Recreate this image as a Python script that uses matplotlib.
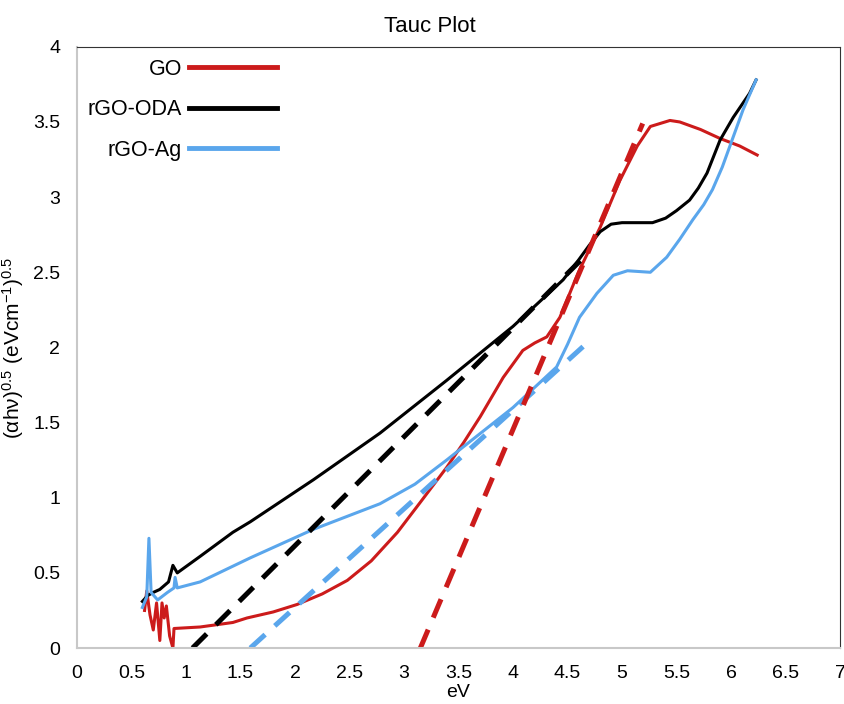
import matplotlib.pyplot as plt

plt.rcParams['font.family'] = ['Liberation Sans', 'DejaVu Sans']

# GO (red)
go_x = [0.62, 0.64, 0.67, 0.70, 0.73, 0.76, 0.78, 0.80, 0.82, 0.85, 0.88, 0.89,
        1.13, 1.43, 1.56, 1.80, 2.02, 2.25, 2.48, 2.70, 2.94, 3.15, 3.39, 3.55,
        3.70, 3.91, 4.09, 4.20, 4.31, 4.43, 4.60, 4.80, 4.98, 5.14, 5.26, 5.35,
        5.44, 5.53, 5.72, 5.90, 6.08, 6.24]
go_y = [0.25, 0.38, 0.22, 0.12, 0.30, 0.05, 0.30, 0.20, 0.28, 0.08, 0.00, 0.13,
        0.14, 0.17, 0.20, 0.24, 0.29, 0.36, 0.45, 0.58, 0.77, 0.97, 1.20, 1.37,
        1.54, 1.80, 1.98, 2.03, 2.07, 2.20, 2.50, 2.80, 3.11, 3.34, 3.47, 3.49,
        3.51, 3.50, 3.45, 3.39, 3.34, 3.28]

# rGO-ODA (black)
oda_x = [0.60, 0.65, 0.70, 0.76, 0.84, 0.88, 0.92, 1.13, 1.43, 1.59, 2.17, 2.78,
         3.39, 4.00, 4.46, 4.60, 4.70, 4.80, 4.90, 5.00, 5.10, 5.28, 5.40, 5.50,
         5.62, 5.70, 5.78, 5.90, 6.02, 6.17, 6.23]
oda_y = [0.31, 0.35, 0.37, 0.39, 0.44, 0.55, 0.50, 0.61, 0.77, 0.84, 1.12, 1.43,
         1.78, 2.14, 2.45, 2.58, 2.68, 2.77, 2.82, 2.83, 2.83, 2.83, 2.86, 2.91,
         2.98, 3.06, 3.16, 3.38, 3.53, 3.69, 3.78]

# rGO-Ag (blue)
ag_x = [0.60, 0.64, 0.66, 0.68, 0.74, 0.83, 0.89, 0.90, 0.92, 1.13, 1.59, 2.17,
        2.78, 3.10, 3.39, 4.00, 4.40, 4.50, 4.61, 4.77, 4.92, 5.05, 5.26, 5.41,
        5.53, 5.65, 5.75, 5.83, 5.92, 5.99, 6.11, 6.23]
ag_y = [0.27, 0.34, 0.73, 0.37, 0.32, 0.37, 0.40, 0.47, 0.40, 0.44, 0.60, 0.79,
        0.96, 1.09, 1.25, 1.60, 1.87, 2.02, 2.20, 2.36, 2.48, 2.51, 2.50, 2.60,
        2.72, 2.85, 2.95, 3.05, 3.20, 3.34, 3.58, 3.78]

# linear fits (tangent lines)
go_fit_x = [3.15, 5.19]
go_fit_y = [0.0, 3.49]
oda_fit_x = [1.06, 4.69]
oda_fit_y = [0.0, 2.63]
ag_fit_x = [1.59, 4.68]
ag_fit_y = [0.0, 2.03]

red = '#cc1b1b'
blue = '#5aa6ec'

fig = plt.figure(figsize=(8.45, 7.04), dpi=100)
ax = fig.add_axes([0.0911, 0.0795, 0.903, 0.854])

ax.plot(go_x, go_y, color=red, lw=2.2, label='GO')
ax.plot(oda_x, oda_y, color='black', lw=2.2, label='rGO-ODA')
ax.plot(ag_x, ag_y, color=blue, lw=2.2, label='rGO-Ag')

ax.plot(oda_fit_x, oda_fit_y, color='black', lw=3.6, dashes=(4, 2.6))
ax.plot(ag_fit_x, ag_fit_y, color=blue, lw=3.6, dashes=(4, 2.6))
ax.plot(go_fit_x, go_fit_y, color=red, lw=3.6, dashes=(4, 2.6))

ax.set_xlim(0, 7)
ax.set_ylim(0, 4)
ax.set_xticks([0, 0.5, 1, 1.5, 2, 2.5, 3, 3.5, 4, 4.5, 5, 5.5, 6, 6.5, 7])
ax.set_xticklabels(['0', '0.5', '1', '1.5', '2', '2.5', '3', '3.5', '4',
                    '4.5', '5', '5.5', '6', '6.5', '7'])
ax.set_yticks([0, 0.5, 1, 1.5, 2, 2.5, 3, 3.5, 4])
ax.set_yticklabels(['0', '0.5', '1', '1.5', '2', '2.5', '3', '3.5', '4'])
ax.tick_params(length=0, labelsize=14, pad=12)

ax.spines['left'].set_color('#c8c8c8')
ax.spines['bottom'].set_color('#c8c8c8')
ax.spines['left'].set_linewidth(1.5)
ax.spines['bottom'].set_linewidth(1.5)
ax.spines['top'].set_color('#333333')
ax.spines['right'].set_color('#333333')

ax.set_title('Tauc Plot', fontsize=16, pad=11, x=0.463)
ax.set_xlabel('eV', fontsize=14, labelpad=2)
ax.set_ylabel(r'$\mathregular{(αhν)^{0.5}\ (eVcm^{-1})^{0.5}}$', fontsize=15, labelpad=5)

leg = ax.legend(loc='upper right', frameon=False, markerfirst=False,
                fontsize=15.5, handlelength=4.1, handletextpad=0.3,
                labelspacing=0.9, bbox_to_anchor=(0.262, 0.98),
                borderaxespad=0, borderpad=0)
for line in leg.get_lines():
    line.set_linewidth(3.5)

fig.savefig('out.png', dpi=100)
